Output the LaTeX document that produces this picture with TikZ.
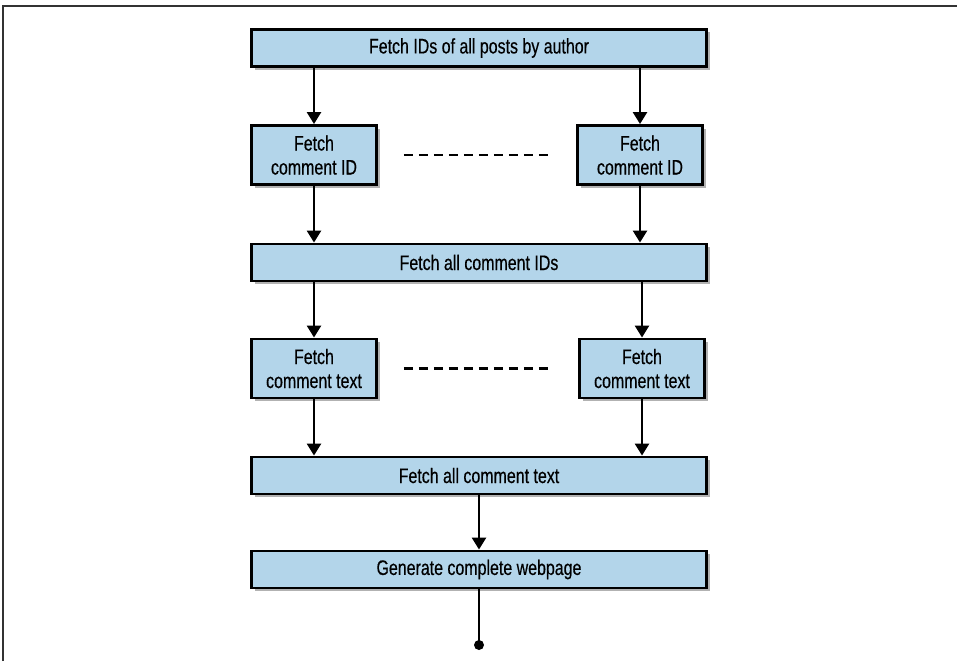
\documentclass[tikz,border=0pt]{standalone}
\usepackage{fontspec}
\setmainfont{Liberation Sans}[FakeStretch=0.76,FakeBold=0.4]
\usetikzlibrary{positioning,shadows,arrows.meta}
\definecolor{boxblue}{RGB}{179,213,234}

\begin{document}
\begin{tikzpicture}[x=1pt,y=-1pt,
        task/.style = {shape=rectangle, draw, line width=2.9pt, align=center,
        fill=boxblue, inner sep=0pt, font=\fontsize{21}{24}\selectfont,
        drop shadow={shadow xshift=3pt, shadow yshift=-3pt, opacity=0.3, fill=black}},
        wide/.style = {task, minimum width=455pt, minimum height=37pt},
        small/.style = {task, minimum width=125pt, minimum height=59pt},
        flow/.style = {line width=2.6pt, -{Triangle[width=14pt,length=12pt]}},
        dots/.style = {line width=2.6pt, dash pattern=on 9pt off 6pt}]
    \useasboundingbox (0,0) rectangle (957,661);
    % frame
    \draw[line width=1.5pt, black!80] (3,661) -- (3,6) -- (957,6);

    \node[wide] (posts) at (479,48) {Fetch IDs of all posts by author};
    \node[small] (idl) at (314,155) {Fetch\\comment ID};
    \node[small] (idr) at (640,155) {Fetch\\comment ID};
    \node[wide] (allids) at (479,262.5) {Fetch all comment IDs};
    \node[small] (txtl) at (314,368.5) {Fetch\\comment text};
    \node[small] (txtr) at (642,368.5) {Fetch\\comment text};
    \node[wide] (alltxt) at (479,475.5) {Fetch all comment text};
    \node[wide] (page) at (479,569.5) {Generate complete webpage};
    \coordinate (out) at (479,645);

    \draw[flow] (posts.south -| idl) -- (idl);
    \draw[flow] (posts.south -| idr) -- (idr);
    \draw[flow] (idl) -- (allids.north -| idl);
    \draw[flow] (idr) -- (allids.north -| idr);
    \draw[flow] (allids.south -| txtl) -- (txtl);
    \draw[flow] (allids.south -| txtr) -- (txtr);
    \draw[flow] (txtl) -- (alltxt.north -| txtl);
    \draw[flow] (txtr) -- (alltxt.north -| txtr);
    \draw[flow] (alltxt) -- (page);
    \draw[line width=2.6pt] (page) -- (out);
    \fill (out) circle (5pt);

    \draw[dots, shorten <=26pt, shorten >=24pt] (idl.east) -- (idr.west);
    \draw[dots, shorten <=26pt, shorten >=26pt] (txtl.east) -- (txtr.west);
\end{tikzpicture}
\end{document}
